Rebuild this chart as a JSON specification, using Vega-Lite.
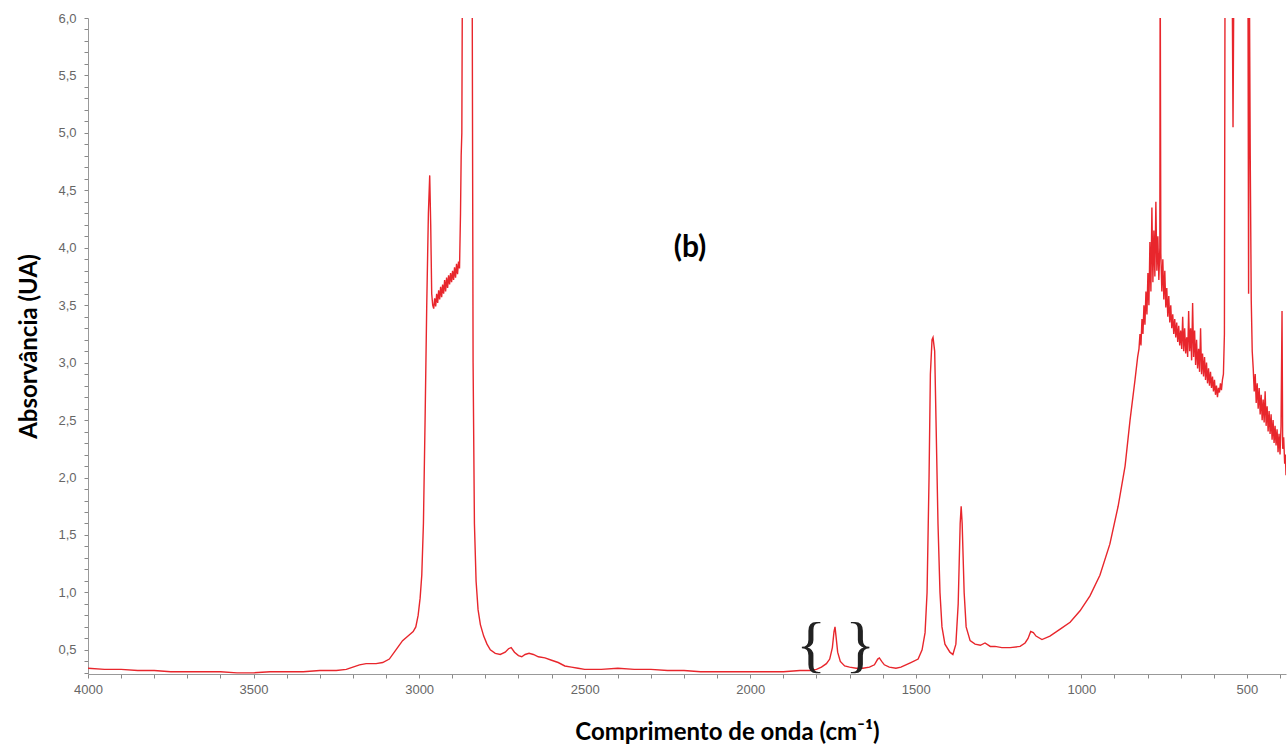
{
  "$schema": "https://vega.github.io/schema/vega-lite/v6.json",
  "autosize": "none",
  "width": 1198,
  "height": 656,
  "padding": {"left": 88, "top": 18, "right": 2, "bottom": 77},
  "background": "white",
  "config": {"view": {"stroke": null}},
  "datasets": {
    "spectrum": [
      {"w": 4000, "a": 0.34}, {"w": 3950, "a": 0.33}, {"w": 3900, "a": 0.33}, {"w": 3850, "a": 0.32},
      {"w": 3800, "a": 0.32}, {"w": 3750, "a": 0.31}, {"w": 3700, "a": 0.31}, {"w": 3650, "a": 0.31},
      {"w": 3600, "a": 0.31}, {"w": 3550, "a": 0.30}, {"w": 3500, "a": 0.30}, {"w": 3450, "a": 0.31},
      {"w": 3400, "a": 0.31}, {"w": 3350, "a": 0.31}, {"w": 3300, "a": 0.32}, {"w": 3250, "a": 0.32},
      {"w": 3220, "a": 0.33}, {"w": 3200, "a": 0.35}, {"w": 3180, "a": 0.37}, {"w": 3160, "a": 0.38},
      {"w": 3130, "a": 0.38}, {"w": 3110, "a": 0.39}, {"w": 3090, "a": 0.42}, {"w": 3070, "a": 0.50},
      {"w": 3050, "a": 0.58}, {"w": 3030, "a": 0.63}, {"w": 3018, "a": 0.66}, {"w": 3010, "a": 0.70},
      {"w": 3003, "a": 0.80}, {"w": 2997, "a": 0.95}, {"w": 2992, "a": 1.15}, {"w": 2987, "a": 1.6},
      {"w": 2982, "a": 2.5}, {"w": 2977, "a": 3.5}, {"w": 2972, "a": 4.3}, {"w": 2968, "a": 4.63},
      {"w": 2965, "a": 4.2}, {"w": 2962, "a": 3.6}, {"w": 2959, "a": 3.50},
      {"w": 2956, "a": 3.47}, {"w": 2953, "a": 3.56}, {"w": 2950, "a": 3.49}, {"w": 2947, "a": 3.60},
      {"w": 2944, "a": 3.52}, {"w": 2941, "a": 3.63}, {"w": 2938, "a": 3.55}, {"w": 2935, "a": 3.66},
      {"w": 2932, "a": 3.57}, {"w": 2929, "a": 3.68}, {"w": 2926, "a": 3.60}, {"w": 2923, "a": 3.72},
      {"w": 2920, "a": 3.62}, {"w": 2917, "a": 3.74}, {"w": 2914, "a": 3.65}, {"w": 2911, "a": 3.76},
      {"w": 2908, "a": 3.68}, {"w": 2905, "a": 3.78}, {"w": 2902, "a": 3.70}, {"w": 2899, "a": 3.80},
      {"w": 2896, "a": 3.72}, {"w": 2893, "a": 3.83}, {"w": 2890, "a": 3.74}, {"w": 2887, "a": 3.86},
      {"w": 2884, "a": 3.77}, {"w": 2881, "a": 3.88}, {"w": 2878, "a": 3.82}, {"w": 2875, "a": 4.3},
      {"w": 2873, "a": 4.8}, {"w": 2871, "a": 5.0}, {"w": 2869, "a": 6.6}, {"w": 2855, "a": 6.8},
      {"w": 2840, "a": 6.6}, {"w": 2837, "a": 3.0}, {"w": 2833, "a": 1.6}, {"w": 2828, "a": 1.1},
      {"w": 2822, "a": 0.85}, {"w": 2815, "a": 0.72}, {"w": 2805, "a": 0.62}, {"w": 2795, "a": 0.55},
      {"w": 2785, "a": 0.50}, {"w": 2770, "a": 0.47}, {"w": 2755, "a": 0.46}, {"w": 2740, "a": 0.48},
      {"w": 2730, "a": 0.51}, {"w": 2722, "a": 0.52}, {"w": 2712, "a": 0.48}, {"w": 2700, "a": 0.45},
      {"w": 2690, "a": 0.44}, {"w": 2680, "a": 0.46}, {"w": 2668, "a": 0.47}, {"w": 2655, "a": 0.46},
      {"w": 2640, "a": 0.44}, {"w": 2620, "a": 0.43}, {"w": 2600, "a": 0.41}, {"w": 2580, "a": 0.39},
      {"w": 2560, "a": 0.36}, {"w": 2540, "a": 0.35}, {"w": 2520, "a": 0.34}, {"w": 2500, "a": 0.33},
      {"w": 2450, "a": 0.33}, {"w": 2400, "a": 0.34}, {"w": 2350, "a": 0.33}, {"w": 2300, "a": 0.33},
      {"w": 2250, "a": 0.32}, {"w": 2200, "a": 0.32}, {"w": 2150, "a": 0.31}, {"w": 2100, "a": 0.31},
      {"w": 2050, "a": 0.31}, {"w": 2000, "a": 0.31}, {"w": 1950, "a": 0.31}, {"w": 1900, "a": 0.31},
      {"w": 1850, "a": 0.32}, {"w": 1820, "a": 0.32}, {"w": 1800, "a": 0.33}, {"w": 1785, "a": 0.35},
      {"w": 1770, "a": 0.38}, {"w": 1760, "a": 0.42}, {"w": 1752, "a": 0.52}, {"w": 1747, "a": 0.66},
      {"w": 1744, "a": 0.70}, {"w": 1741, "a": 0.62}, {"w": 1736, "a": 0.48}, {"w": 1728, "a": 0.40},
      {"w": 1715, "a": 0.36}, {"w": 1700, "a": 0.35}, {"w": 1680, "a": 0.34}, {"w": 1660, "a": 0.34},
      {"w": 1640, "a": 0.35}, {"w": 1625, "a": 0.37}, {"w": 1615, "a": 0.42}, {"w": 1610, "a": 0.43},
      {"w": 1603, "a": 0.40}, {"w": 1595, "a": 0.37}, {"w": 1580, "a": 0.35}, {"w": 1560, "a": 0.34},
      {"w": 1545, "a": 0.35}, {"w": 1530, "a": 0.37}, {"w": 1515, "a": 0.39}, {"w": 1493, "a": 0.42},
      {"w": 1481, "a": 0.50}, {"w": 1472, "a": 0.65}, {"w": 1466, "a": 1.0}, {"w": 1460, "a": 2.0},
      {"w": 1456, "a": 2.9}, {"w": 1451, "a": 3.2}, {"w": 1448, "a": 3.22}, {"w": 1443, "a": 3.1},
      {"w": 1439, "a": 2.5}, {"w": 1433, "a": 1.6}, {"w": 1427, "a": 1.0}, {"w": 1421, "a": 0.7},
      {"w": 1412, "a": 0.55}, {"w": 1397, "a": 0.48}, {"w": 1388, "a": 0.46}, {"w": 1379, "a": 0.55},
      {"w": 1372, "a": 0.9}, {"w": 1366, "a": 1.6}, {"w": 1363, "a": 1.75}, {"w": 1360, "a": 1.6},
      {"w": 1354, "a": 1.0}, {"w": 1348, "a": 0.7}, {"w": 1336, "a": 0.58}, {"w": 1321, "a": 0.55},
      {"w": 1305, "a": 0.54}, {"w": 1291, "a": 0.56}, {"w": 1275, "a": 0.53}, {"w": 1261, "a": 0.53},
      {"w": 1240, "a": 0.52}, {"w": 1215, "a": 0.52}, {"w": 1185, "a": 0.53}, {"w": 1170, "a": 0.56},
      {"w": 1161, "a": 0.60}, {"w": 1153, "a": 0.66}, {"w": 1145, "a": 0.65}, {"w": 1137, "a": 0.62},
      {"w": 1119, "a": 0.59}, {"w": 1095, "a": 0.62}, {"w": 1064, "a": 0.68}, {"w": 1034, "a": 0.74},
      {"w": 1004, "a": 0.84}, {"w": 974, "a": 0.97}, {"w": 944, "a": 1.15}, {"w": 914, "a": 1.42},
      {"w": 889, "a": 1.75}, {"w": 868, "a": 2.1}, {"w": 853, "a": 2.5}, {"w": 838, "a": 2.85},
      {"w": 830, "a": 3.05}, {"w": 826, "a": 3.12}, {"w": 823, "a": 3.25}, {"w": 820, "a": 3.15},
      {"w": 817, "a": 3.38}, {"w": 814, "a": 3.25}, {"w": 811, "a": 3.50}, {"w": 808, "a": 3.33},
      {"w": 805, "a": 3.62}, {"w": 802, "a": 3.42}, {"w": 799, "a": 3.78}, {"w": 796, "a": 3.50},
      {"w": 793, "a": 4.05}, {"w": 790, "a": 3.62}, {"w": 787, "a": 4.35}, {"w": 784, "a": 3.70},
      {"w": 781, "a": 4.15}, {"w": 778, "a": 3.75}, {"w": 775, "a": 4.40}, {"w": 772, "a": 3.80},
      {"w": 769, "a": 4.10}, {"w": 766, "a": 3.72}, {"w": 763, "a": 4.00}, {"w": 762, "a": 6.6},
      {"w": 760, "a": 3.95}, {"w": 757, "a": 3.62}, {"w": 754, "a": 3.90}, {"w": 751, "a": 3.55},
      {"w": 748, "a": 3.80}, {"w": 745, "a": 3.48}, {"w": 742, "a": 3.65}, {"w": 739, "a": 3.40},
      {"w": 736, "a": 3.58}, {"w": 733, "a": 3.35}, {"w": 730, "a": 3.50}, {"w": 727, "a": 3.30},
      {"w": 724, "a": 3.42}, {"w": 721, "a": 3.25}, {"w": 718, "a": 3.38}, {"w": 715, "a": 3.22},
      {"w": 712, "a": 3.35}, {"w": 709, "a": 3.18}, {"w": 706, "a": 3.32}, {"w": 703, "a": 3.15},
      {"w": 700, "a": 3.28}, {"w": 697, "a": 3.12}, {"w": 694, "a": 3.40}, {"w": 691, "a": 3.10},
      {"w": 688, "a": 3.30}, {"w": 685, "a": 3.08}, {"w": 682, "a": 3.22}, {"w": 679, "a": 3.05},
      {"w": 676, "a": 3.45}, {"w": 673, "a": 3.10}, {"w": 670, "a": 3.30}, {"w": 667, "a": 3.02},
      {"w": 664, "a": 3.52}, {"w": 661, "a": 3.05}, {"w": 658, "a": 3.28}, {"w": 655, "a": 2.98},
      {"w": 652, "a": 3.20}, {"w": 649, "a": 2.95}, {"w": 646, "a": 3.12}, {"w": 643, "a": 2.92},
      {"w": 640, "a": 3.30}, {"w": 637, "a": 2.90}, {"w": 634, "a": 3.08}, {"w": 631, "a": 2.88},
      {"w": 628, "a": 3.05}, {"w": 625, "a": 2.85}, {"w": 622, "a": 3.00}, {"w": 619, "a": 2.82},
      {"w": 616, "a": 2.95}, {"w": 613, "a": 2.80}, {"w": 610, "a": 2.92}, {"w": 607, "a": 2.78},
      {"w": 604, "a": 2.88}, {"w": 601, "a": 2.75}, {"w": 598, "a": 2.85}, {"w": 595, "a": 2.72},
      {"w": 592, "a": 2.80}, {"w": 589, "a": 2.70}, {"w": 586, "a": 2.78}, {"w": 583, "a": 2.74},
      {"w": 580, "a": 2.82}, {"w": 577, "a": 2.76}, {"w": 574, "a": 2.85}, {"w": 571, "a": 2.90},
      {"w": 568, "a": 3.25}, {"w": 566, "a": 6.6}, {"w": 555, "a": 6.8}, {"w": 545, "a": 6.6},
      {"w": 542, "a": 5.05}, {"w": 539, "a": 6.6}, {"w": 520, "a": 6.8}, {"w": 500, "a": 6.6},
      {"w": 497, "a": 6.6}, {"w": 495, "a": 3.6}, {"w": 493, "a": 6.6}, {"w": 490, "a": 4.8},
      {"w": 487, "a": 3.55}, {"w": 484, "a": 3.1}, {"w": 481, "a": 2.95},
      {"w": 478, "a": 2.75}, {"w": 475, "a": 2.90}, {"w": 472, "a": 2.65}, {"w": 469, "a": 2.82},
      {"w": 466, "a": 2.60}, {"w": 463, "a": 2.78}, {"w": 460, "a": 2.55}, {"w": 457, "a": 2.72},
      {"w": 454, "a": 2.50}, {"w": 451, "a": 2.68}, {"w": 448, "a": 2.48}, {"w": 445, "a": 2.75},
      {"w": 442, "a": 2.45}, {"w": 439, "a": 2.62}, {"w": 436, "a": 2.40}, {"w": 433, "a": 2.58},
      {"w": 430, "a": 2.38}, {"w": 427, "a": 2.55}, {"w": 424, "a": 2.33}, {"w": 421, "a": 2.50},
      {"w": 418, "a": 2.30}, {"w": 415, "a": 2.45}, {"w": 412, "a": 2.28}, {"w": 409, "a": 2.42},
      {"w": 406, "a": 2.22}, {"w": 403, "a": 2.38}, {"w": 400, "a": 2.20}, {"w": 397, "a": 2.45},
      {"w": 394, "a": 3.45}, {"w": 392, "a": 2.25}, {"w": 389, "a": 2.35}, {"w": 386, "a": 2.12},
      {"w": 384, "a": 2.20}, {"w": 382, "a": 2.02}
    ],
    "label": [{"w": 2182, "a": 4.0, "text": "(b)"}],
    "braces": [
      {"w": 1816, "a": 0.53, "text": "{"},
      {"w": 1668, "a": 0.53, "text": "}"}
    ]
  },
  "encoding": {
    "x": {
      "field": "w", "type": "quantitative",
      "scale": {"domain": [382, 4000], "reverse": true, "nice": false, "zero": false},
      "axis": {
        "title": "Comprimento de onda (cm⁻¹)",
        "values": [4000, 3900, 3800, 3700, 3600, 3500, 3400, 3300, 3200, 3100, 3000, 2900, 2800, 2700, 2600, 2500, 2400, 2300, 2200, 2100, 2000, 1900, 1800, 1700, 1600, 1500, 1400, 1300, 1200, 1100, 1000, 900, 800, 700, 600, 500, 400],
        "labelExpr": "datum.value % 500 == 0 ? datum.value : ''",
        "labelOverlap": false, "labelFlush": false,
        "grid": false, "tickSize": 4, "tickColor": "#888", "domainColor": "#999",
        "labelFont": "Liberation Sans", "labelFontSize": 13, "labelColor": "#666", "labelPadding": 5,
        "titleFont": "Lato", "titleFontWeight": "bold", "titleFontSize": 24, "titleColor": "#000",
        "titleX": 639, "titlePadding": 24
      }
    },
    "y": {
      "field": "a", "type": "quantitative",
      "scale": {"domain": [0.29, 6.0], "nice": false, "zero": false},
      "axis": {
        "title": "Absorvância (UA)",
        "values": [0.3, 0.4, 0.5, 0.6, 0.7, 0.8, 0.9, 1.0, 1.1, 1.2, 1.3, 1.4, 1.5, 1.6, 1.7, 1.8, 1.9, 2.0, 2.1, 2.2, 2.3, 2.4, 2.5, 2.6, 2.7, 2.8, 2.9, 3.0, 3.1, 3.2, 3.3, 3.4, 3.5, 3.6, 3.7, 3.8, 3.9, 4.0, 4.1, 4.2, 4.3, 4.4, 4.5, 4.6, 4.7, 4.8, 4.9, 5.0, 5.1, 5.2, 5.3, 5.4, 5.5, 5.6, 5.7, 5.8, 5.9, 6.0],
        "labelExpr": "round(datum.value * 10) % 5 == 0 ? replace(format(datum.value, '.1f'), '.', ',') : ''",
        "labelOverlap": false, "labelFlush": false,
        "grid": false, "tickSize": 4, "tickColor": "#888", "domainColor": "#999",
        "labelFont": "Liberation Sans", "labelFontSize": 13, "labelColor": "#666", "labelPadding": 8,
        "titleFont": "Lato", "titleFontWeight": "bold", "titleFontSize": 24, "titleColor": "#000",
        "titlePadding": 16
      }
    }
  },
  "layer": [
    {
      "data": {"name": "spectrum"},
      "mark": {"type": "line", "color": "#e8262c", "strokeWidth": 1.4, "clip": true, "interpolate": "linear"}
    },
    {
      "data": {"name": "label"},
      "mark": {"type": "text", "font": "Lato", "fontWeight": "bold", "fontSize": 30, "color": "#000", "align": "center", "baseline": "middle"},
      "encoding": {"text": {"field": "text"}}
    },
    {
      "data": {"name": "braces"},
      "mark": {"type": "text", "font": "Liberation Serif", "fontWeight": "normal", "fontSize": 62, "color": "#222", "align": "center", "baseline": "middle"},
      "encoding": {"text": {"field": "text"}}
    }
  ]
}
